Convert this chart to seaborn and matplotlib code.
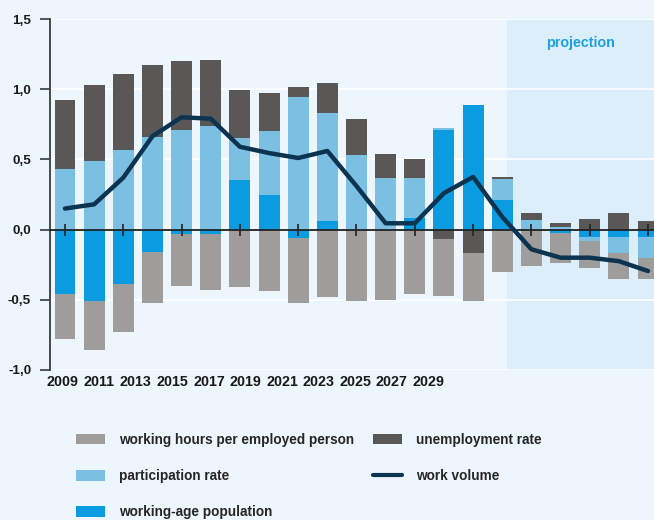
import numpy as np
import pandas as pd
import matplotlib
matplotlib.use("Agg")
import matplotlib.pyplot as plt
import matplotlib.transforms as mtransforms
from matplotlib.patches import Patch
from matplotlib.lines import Line2D
import seaborn as sns

# ---- data -----------------------------------------------------------------
years = list(range(2009, 2030))
year_labels = [str(y) for y in range(2009, 2030, 2)]

population = [-0.46, -0.51, -0.39, -0.16, -0.03, -0.03, 0.35, 0.25, -0.06, 0.06,
              0.00, 0.00, 0.08, 0.71, 0.885, 0.21, 0.00, -0.025, -0.05, -0.05, -0.05]
participation = [0.43, 0.49, 0.57, 0.66, 0.71, 0.74, 0.30, 0.45, 0.945, 0.77,
                 0.53, 0.37, 0.29, 0.015, 0.0, 0.15, 0.07, 0.02, -0.03, -0.12, -0.15]
unemployment = [0.495, 0.54, 0.54, 0.51, 0.49, 0.47, 0.345, 0.27, 0.07, 0.215,
                0.26, 0.17, 0.13, -0.07, -0.17, 0.012, 0.05, 0.025, 0.075, 0.12, 0.06]
hours = [-0.32, -0.345, -0.34, -0.36, -0.37, -0.40, -0.41, -0.44, -0.46, -0.48,
         -0.51, -0.50, -0.46, -0.40, -0.34, -0.30, -0.26, -0.215, -0.19, -0.18, -0.155]
work_volume = [0.15, 0.18, 0.37, 0.665, 0.80, 0.79, 0.59, 0.545, 0.51, 0.56,
               0.31, 0.045, 0.045, 0.26, 0.375, 0.09, -0.14, -0.20, -0.20, -0.225, -0.295]

projection_start = 2024.17
yticks = [-1.0, -0.5, 0.0, 0.5, 1.0, 1.5]

# ---- style ----------------------------------------------------------------
BG = "#EEF6FD"
SHADE = "#DCEEFA"
C_POP = "#0A9BE0"
C_PART = "#7BC0E3"
C_UNEMP = "#595856"
C_HOURS = "#9E9D9C"
C_LINE = "#0C3450"
C_TEXT = "#1A1A1A"
C_PROJ = "#1BA1E2"

sns.set_theme(style="white")
plt.rcParams["font.family"] = ["Liberation Sans", "DejaVu Sans"]
plt.rcParams["font.weight"] = "bold"

fig = plt.figure(figsize=(6.54, 5.2), dpi=100, facecolor=BG)
ax = fig.add_axes([50 / 654, 150 / 520, 604 / 654, 351 / 520])
ax.set_facecolor(BG)

# projection shading and horizontal guides
ax.axvspan(projection_start, 2040, color=SHADE, lw=0, zorder=0.2)
for yv in yticks:
    if yv != 0:
        ax.axhline(yv, color="white", lw=1.2, zorder=0.5)

# ---- diverging stacked bars ----------------------------------------------
series = [("working-age population", population, C_POP),
          ("participation rate", participation, C_PART),
          ("unemployment rate", unemployment, C_UNEMP),
          ("working hours per employed person", hours, C_HOURS)]

pos_base = np.zeros(len(years))
neg_base = np.zeros(len(years))
for name, vals, col in series:
    v = np.asarray(vals, dtype=float)
    bottom = np.where(v >= 0, pos_base, neg_base)
    df = pd.DataFrame({"year": years, "value": v})
    sns.barplot(data=df, x="year", y="value", native_scale=True, bottom=bottom,
                color=col, saturation=1, width=0.72, errorbar=None,
                linewidth=0, ax=ax, zorder=1)
    pos_base = pos_base + np.clip(v, 0, None)
    neg_base = neg_base + np.clip(v, None, 0)

# work volume line
sns.lineplot(x=years, y=work_volume, color=C_LINE, lw=3.2, ax=ax, zorder=5,
             solid_joinstyle="round")

# ---- axes -----------------------------------------------------------------
ax.set_axisbelow(False)
ax.set_xlim(2009 - 15 / 29.15, 2029 + 6 / 29.15)
ax.set_ylim(-1.0, 1.5)
ax.set_xlabel("")
ax.set_ylabel("")

for s in ["top", "right"]:
    ax.spines[s].set_visible(False)
ax.spines["left"].set_color("#3A3A3A")
ax.spines["left"].set_linewidth(1.3)
ax.spines["bottom"].set_position(("data", 0))
ax.spines["bottom"].set_color("#222222")
ax.spines["bottom"].set_linewidth(1.3)
ax.spines["bottom"].set_zorder(3)

ax.set_xticks(years[::2])
ax.tick_params(axis="x", direction="inout", length=8, width=1.2,
               color="#222222", labelbottom=False, bottom=True)
ax.set_yticks(yticks)
ax.set_yticklabels([f"{t:.1f}".replace(".", ",") for t in yticks],
                   fontsize=9.7, fontweight="bold", color=C_TEXT)
ax.tick_params(axis="y", direction="out", length=7, width=1.2,
               color="#3A3A3A", pad=6.5, left=True)

# year labels under the axis
trans = mtransforms.blended_transform_factory(ax.transData, ax.transAxes)
for i, lab in enumerate(year_labels):
    ax.text(2008.914 + i * 1.2556, -0.034, lab, transform=trans,
            ha="center", va="center", fontsize=10.3, fontweight="bold",
            color=C_TEXT)

ax.text(2026.68, 1.33, "projection", ha="center", va="center",
        fontsize=10.3, fontweight="bold", color=C_PROJ)

# ---- legend ---------------------------------------------------------------
handles = [Patch(facecolor=C_HOURS, edgecolor="none"),
           Patch(facecolor=C_PART, edgecolor="none"),
           Patch(facecolor=C_POP, edgecolor="none"),
           Patch(facecolor=C_UNEMP, edgecolor="none"),
           Line2D([0], [0], color=C_LINE, lw=3)]
labels = ["working hours per employed person", "participation rate",
          "working-age population", "unemployment rate", "work volume"]
fig.legend(handles, labels, ncol=2, loc="upper left",
           bbox_to_anchor=(76 / 654, 1 - 433 / 520), frameon=False,
           prop={"weight": "bold", "size": 9.8}, handlelength=2.15,
           handleheight=0.8, handletextpad=1.0, columnspacing=1.4,
           labelspacing=1.62, borderpad=0, borderaxespad=0)

fig.savefig("out.png", dpi=100, facecolor=BG)
